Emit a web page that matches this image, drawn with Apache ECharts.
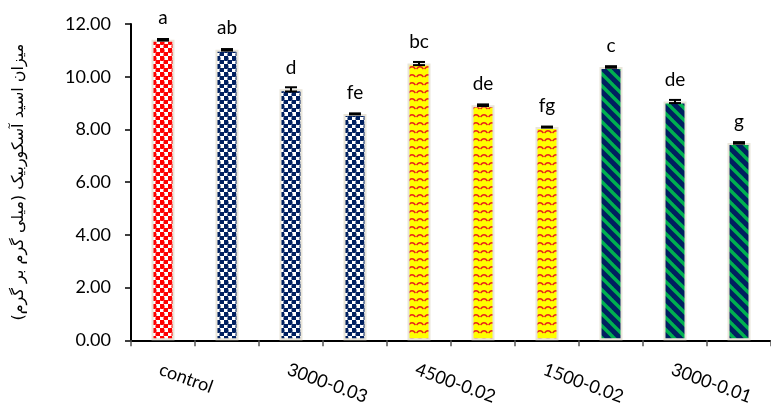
<!DOCTYPE html>
<html>
<head>
<meta charset="utf-8">
<script src="https://cdn.jsdelivr.net/npm/echarts@6/dist/echarts.min.js"></script>
<style>
  html, body { margin: 0; padding: 0; background: #fff; }
  #chart { width: 771px; height: 407px; }
</style>
</head>
<body>
<div id="chart"></div>
<script>
// ---- data ----
const tickLabels = ['control', '', '3000-0.03', '', '4500-0.02', '', '1500-0.02', '', '3000-0.01', ''];
const values  = [11.40, 11.02, 9.52, 8.59, 10.50, 8.92, 8.09, 10.37, 9.06, 7.49];
const errors  = [0.03, 0.03, 0.08, 0.02, 0.06, 0.03, 0.02, 0.03, 0.06, 0.03];
const letters = ['a', 'ab', 'd', 'fe', 'bc', 'de', 'fg', 'c', 'de', 'g'];
const fills   = ['redChk', 'navyChk', 'navyChk', 'navyChk', 'yelWave', 'yelWave', 'yelWave', 'stripe', 'stripe', 'stripe'];
const yTitle  = 'میزان اسید آسکوربیک (میلی گرم بر گرم)';

const FONT = 'Lato, "Open Sans", sans-serif';
const NAVY = '#002060';

// ---- pattern tiles ----
function tile(w, h, draw) {
  const c = document.createElement('canvas');
  c.width = w; c.height = h;
  draw(c.getContext('2d'));
  return c;
}

function checker(col) {
  return tile(8, 8, g => {
    g.fillStyle = '#fff';
    g.fillRect(0, 0, 8, 8);
    g.fillStyle = col;
    g.fillRect(0, 0, 4, 4);
    g.fillRect(4, 4, 4, 4);
    g.beginPath(); g.arc(2, 2.5, 2.6, 0, Math.PI * 2); g.fill();
    g.beginPath(); g.arc(6, 6.5, 2.6, 0, Math.PI * 2); g.fill();
  });
}

const PATTERNS = {
  redChk: checker('#ff0000'),
  navyChk: checker(NAVY),
  yelWave: tile(8, 8, g => {
    g.fillStyle = '#ffff00';
    g.fillRect(0, 0, 8, 8);
    g.strokeStyle = '#e8201a';
    g.lineWidth = 1.5;
    g.beginPath();
    g.moveTo(0.5, 5); g.quadraticCurveTo(4, 0.5, 7.5, 5);
    g.stroke();
  }),
  stripe: tile(12, 12, g => {
    g.fillStyle = NAVY;
    g.fillRect(0, 0, 12, 12);
    g.strokeStyle = '#00b050';
    g.lineWidth = 3.4;
    for (let x = -12; x <= 12; x += 12) {
      g.beginPath(); g.moveTo(x - 1, -1); g.lineTo(x + 13, 13); g.stroke();
    }
  })
};

const chart = echarts.init(document.getElementById('chart'), null, { renderer: 'canvas' });

chart.setOption({
  backgroundColor: '#fff',
  animation: false,
  textStyle: { fontFamily: FONT },
  grid: { left: 131, right: 0, top: 24, bottom: 63, containLabel: false },
  xAxis: {
    type: 'category',
    data: tickLabels,
    axisLine: { lineStyle: { color: '#000', width: 2 } },
    axisTick: { show: true, interval: 0, length: 6, lineStyle: { color: '#555', width: 1.5 } },
    axisLabel: {
      interval: 0, rotate: -20, margin: 20,
      align: 'left', verticalAlign: 'top',
      color: '#000', fontFamily: FONT, fontSize: 18
    }
  },
  yAxis: {
    type: 'value',
    min: 0, max: 12, interval: 2,
    name: yTitle,
    nameLocation: 'middle',
    nameGap: 104,
    nameTextStyle: { color: '#000', fontFamily: '"DejaVu Sans", sans-serif', fontSize: 16 },
    axisLine: { show: true, lineStyle: { color: '#000', width: 2 } },
    axisTick: { show: true, length: 6, lineStyle: { color: '#000', width: 1.5 } },
    axisLabel: { color: '#000', fontFamily: FONT, fontSize: 18, margin: 20, formatter: v => v.toFixed(2) },
    splitLine: { show: false }
  },
  series: [
    {
      type: 'bar',
      barWidth: 23,
      data: values.map((v, i) => ({
        value: v,
        itemStyle: {
          color: { image: PATTERNS[fills[i]], repeat: 'repeat' },
          borderColor: '#e9e5d9',
          borderWidth: 2
        }
      })),
      label: {
        show: true, position: 'top', distance: 12,
        color: '#000', fontFamily: FONT, fontSize: 19,
        formatter: p => letters[p.dataIndex]
      }
    },
    {
      type: 'custom',
      z: 5,
      data: values.map((v, i) => [i, v, errors[i]]),
      renderItem: (params, api) => {
        const i = api.value(0), v = api.value(1), e = api.value(2);
        const hi = api.coord([i, v + e]);
        const lo = api.coord([i, v - e]);
        const w = 6;
        const style = { stroke: '#000', lineWidth: 2 };
        return {
          type: 'group',
          children: [
            { type: 'line', shape: { x1: hi[0], y1: hi[1], x2: lo[0], y2: lo[1] }, style },
            { type: 'line', shape: { x1: hi[0] - w, y1: hi[1], x2: hi[0] + w, y2: hi[1] }, style },
            { type: 'line', shape: { x1: lo[0] - w, y1: lo[1], x2: lo[0] + w, y2: lo[1] }, style }
          ]
        };
      }
    }
  ]
});
</script>
</body>
</html>
